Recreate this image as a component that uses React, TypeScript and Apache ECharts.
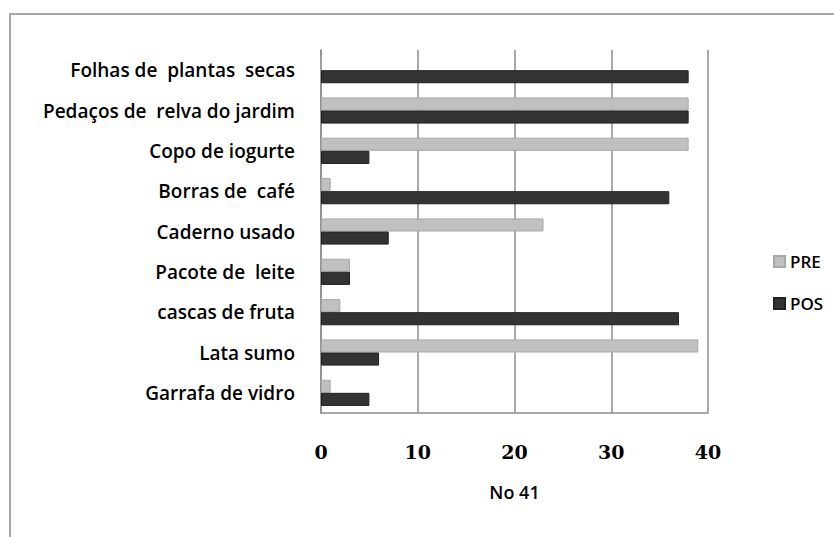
import React, { useEffect, useRef } from "react";
import * as echarts from "echarts";

const categories = [
  "Folhas de  plantas  secas",
  "Pedaços de  relva do jardim",
  "Copo de iogurte",
  "Borras de  café",
  "Caderno usado",
  "Pacote de  leite",
  "cascas de fruta",
  "Lata sumo",
  "Garrafa de vidro",
];
const preValues = [0, 38, 38, 1, 23, 3, 2, 39, 1];
const posValues = [38, 38, 5, 36, 7, 3, 37, 6, 5];
const xTicks = [0, 10, 20, 30, 40];
const axisTitle = "No 41";

export default function App() {
  const ref = useRef<HTMLDivElement>(null);
  useEffect(() => {
    document.body.style.margin = "0";
    const chart = echarts.init(ref.current!, null, { renderer: "svg" });
    chart.setOption({
      animation: false,
      backgroundColor: "#ffffff",
      graphic: [
        {
          type: "rect",
          shape: { x: 10, y: 14, width: 840, height: 540 },
          style: { fill: "none", stroke: "#a6a6a6", lineWidth: 2 },
          silent: true,
        },
      ],
      legend: {
        orient: "vertical",
        left: 768,
        top: 248,
        itemWidth: 11,
        itemHeight: 11,
        itemGap: 25,
        icon: "rect",
        textStyle: { fontFamily: "Open Sans", fontWeight: 600, fontSize: 17, color: "#000" },
        data: ["PRE", "POS"],
      },
      grid: { left: 321, top: 50, width: 387, height: 363, containLabel: false },
      xAxis: {
        type: "value",
        min: xTicks[0],
        max: xTicks[xTicks.length - 1],
        interval: 10,
        name: axisTitle,
        nameLocation: "middle",
        nameGap: 70,
        nameTextStyle: { fontFamily: "Open Sans", fontWeight: 600, fontSize: 18, color: "#000" },
        axisLine: { show: true, lineStyle: { color: "#8c8c8c", width: 1.5 } },
        axisTick: { show: false },
        axisLabel: {
          margin: 29,
          fontFamily: "DejaVu Serif",
          fontWeight: "bold",
          fontSize: 19,
          color: "#000",
        },
        splitLine: { show: true, lineStyle: { color: "#8c8c8c", width: 1.5 } },
      },
      yAxis: {
        type: "category",
        inverse: true,
        data: categories,
        axisLine: { show: true, lineStyle: { color: "#8c8c8c", width: 1.5 } },
        axisTick: { show: false },
        axisLabel: {
          margin: 26,
          padding: [8, 0, 0, 0],
          fontFamily: "Open Sans",
          fontWeight: 600,
          fontSize: 19,
          color: "#000",
        },
      },
      series: [
        {
          name: "PRE",
          type: "bar",
          data: preValues,
          barGap: "0%",
          barCategoryGap: "35%",
          itemStyle: { color: "#c0c0c0", borderColor: "#a8a8a8", borderWidth: 1 },
        },
        {
          name: "POS",
          type: "bar",
          data: posValues,
          barGap: "0%",
          barCategoryGap: "35%",
          itemStyle: { color: "#333333", borderColor: "#222222", borderWidth: 1 },
        },
      ],
    });
    return () => chart.dispose();
  }, []);
  return <div ref={ref} style={{ width: 834, height: 537 }} />;
}
